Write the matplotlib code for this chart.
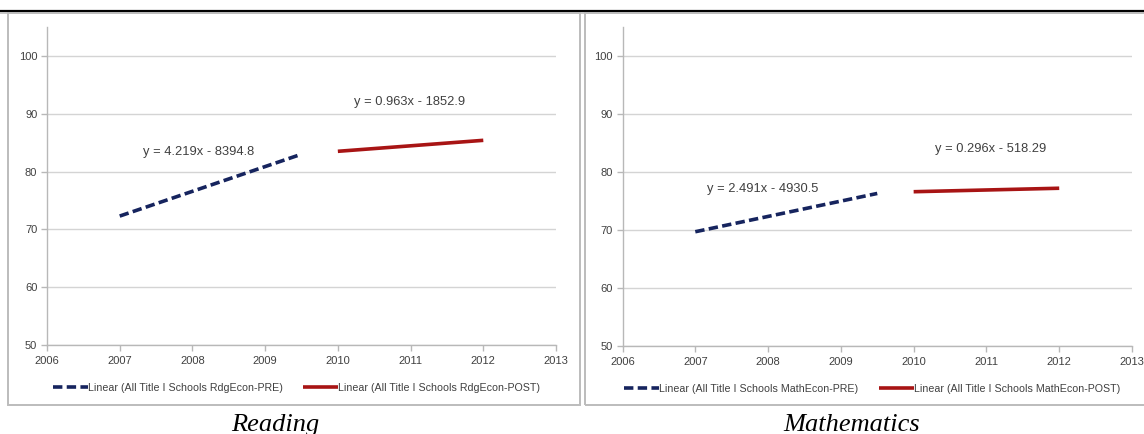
import matplotlib
matplotlib.use("Agg")
import matplotlib.pyplot as plt
from matplotlib.patches import Rectangle
from matplotlib.lines import Line2D

# Trend segments: (start year, end year) and fitted values at those years
pre_years = [2007, 2009.5]
post_years = [2010, 2012]

reading_pre = [72.3, 83.0]
reading_post = [83.5, 85.4]
math_pre = [69.7, 76.3]
math_post = [76.6, 77.2]

reading_pre_eq = "y = 4.219x - 8394.8"
reading_post_eq = "y = 0.963x - 1852.9"
math_pre_eq = "y = 2.491x - 4930.5"
math_post_eq = "y = 0.296x - 518.29"

reading_labels = ["Linear (All Title I Schools RdgEcon-PRE)",
                  "Linear (All Title I Schools RdgEcon-POST)"]
math_labels = ["Linear (All Title I Schools MathEcon-PRE)",
               "Linear (All Title I Schools MathEcon-POST)"]

x_ticks = list(range(2006, 2014))
y_ticks = [50, 60, 70, 80, 90, 100]

NAVY = "#16245e"
RED = "#a81414"
GRID = "#d4d4d4"
AXIS = "#b8b8b8"
TEXT = "#404040"
FONT = "Liberation Sans"

W, H = 1144, 434
fig = plt.figure(figsize=(W / 100, H / 100), dpi=100)


def fx(px):
    return px / W


def fy(py):
    return 1 - py / H


# page rule and panel frames
fig.add_artist(Line2D([0, 1], [fy(10.5), fy(10.5)], color="black", lw=1.6,
                      transform=fig.transFigure))
fig.add_artist(Line2D([0, 1], [fy(12.5), fy(12.5)], color="#bdbdbd", lw=1.2,
                      transform=fig.transFigure))
fig.add_artist(Rectangle((fx(8), fy(405)), fx(572), fy(13) - fy(405),
                         transform=fig.transFigure, fill=False,
                         edgecolor="#bcbcbc", lw=1.4))
fig.add_artist(Rectangle((fx(585), fy(405)), fx(600), fy(13) - fy(405),
                         transform=fig.transFigure, fill=False,
                         edgecolor="#bcbcbc", lw=1.4))


def panel(rect, pre, post, pre_eq, post_eq, pre_eq_pos, post_eq_pos,
          labels, legend_x, caption, caption_x):
    ax = fig.add_axes(rect)
    ax.set_xlim(2006, 2013)
    ax.set_ylim(50, 105)
    ax.set_xticks(x_ticks)
    ax.set_yticks(y_ticks)
    ax.yaxis.grid(True, color=GRID, lw=1.0)
    ax.set_axisbelow(True)
    for s in ("top", "right"):
        ax.spines[s].set_visible(False)
    for s in ("left", "bottom"):
        ax.spines[s].set_color(AXIS)
        ax.spines[s].set_linewidth(1.0)
    ax.tick_params(axis="both", colors=AXIS, length=4, width=1.0,
                   labelcolor=TEXT, labelsize=8, direction="out")
    ax.tick_params(axis="x", pad=4)
    ax.tick_params(axis="y", pad=3)
    for lab in ax.get_xticklabels() + ax.get_yticklabels():
        lab.set_fontfamily(FONT)

    l1, = ax.plot(pre_years, pre, color=NAVY, lw=2.6,
                  dashes=(2.6, 1.2), solid_capstyle="butt",
                  dash_capstyle="butt")
    l2, = ax.plot(post_years, post, color=RED, lw=2.6,
                  solid_capstyle="butt")

    ax.text(pre_eq_pos[0], pre_eq_pos[1], pre_eq, ha="center", va="center",
            fontsize=9.3, color=TEXT, family=FONT)
    ax.text(post_eq_pos[0], post_eq_pos[1], post_eq, ha="center",
            va="center", fontsize=9.3, color=TEXT, family=FONT)

    leg = ax.legend([l1, l2], labels, loc="center",
                    bbox_to_anchor=(legend_x, -0.134), ncol=2,
                    frameon=False, handlelength=3.3, handletextpad=0.0,
                    columnspacing=1.9, prop={"family": FONT, "size": 7.7})
    for t in leg.get_texts():
        t.set_color(TEXT)

    fig.text(caption_x, fy(431), caption, ha="center", va="baseline",
             fontsize=19, style="italic", family="Liberation Serif",
             color="black")
    return ax


panel([fx(47), fy(345), fx(556 - 47), fy(27) - fy(345)],
      reading_pre, reading_post, reading_pre_eq, reading_post_eq,
      (2008.09, 83.4), (2010.99, 92.1), reading_labels, 0.49,
      "Reading", fx(275.5))

panel([fx(622.5), fy(346), fx(1132 - 622.5), fy(27) - fy(346)],
      math_pre, math_post, math_pre_eq, math_post_eq,
      (2007.93, 77.0), (2011.06, 83.9), math_labels, 0.49,
      "Mathematics", fx(851.7))

fig.savefig("out.png", dpi=100)
